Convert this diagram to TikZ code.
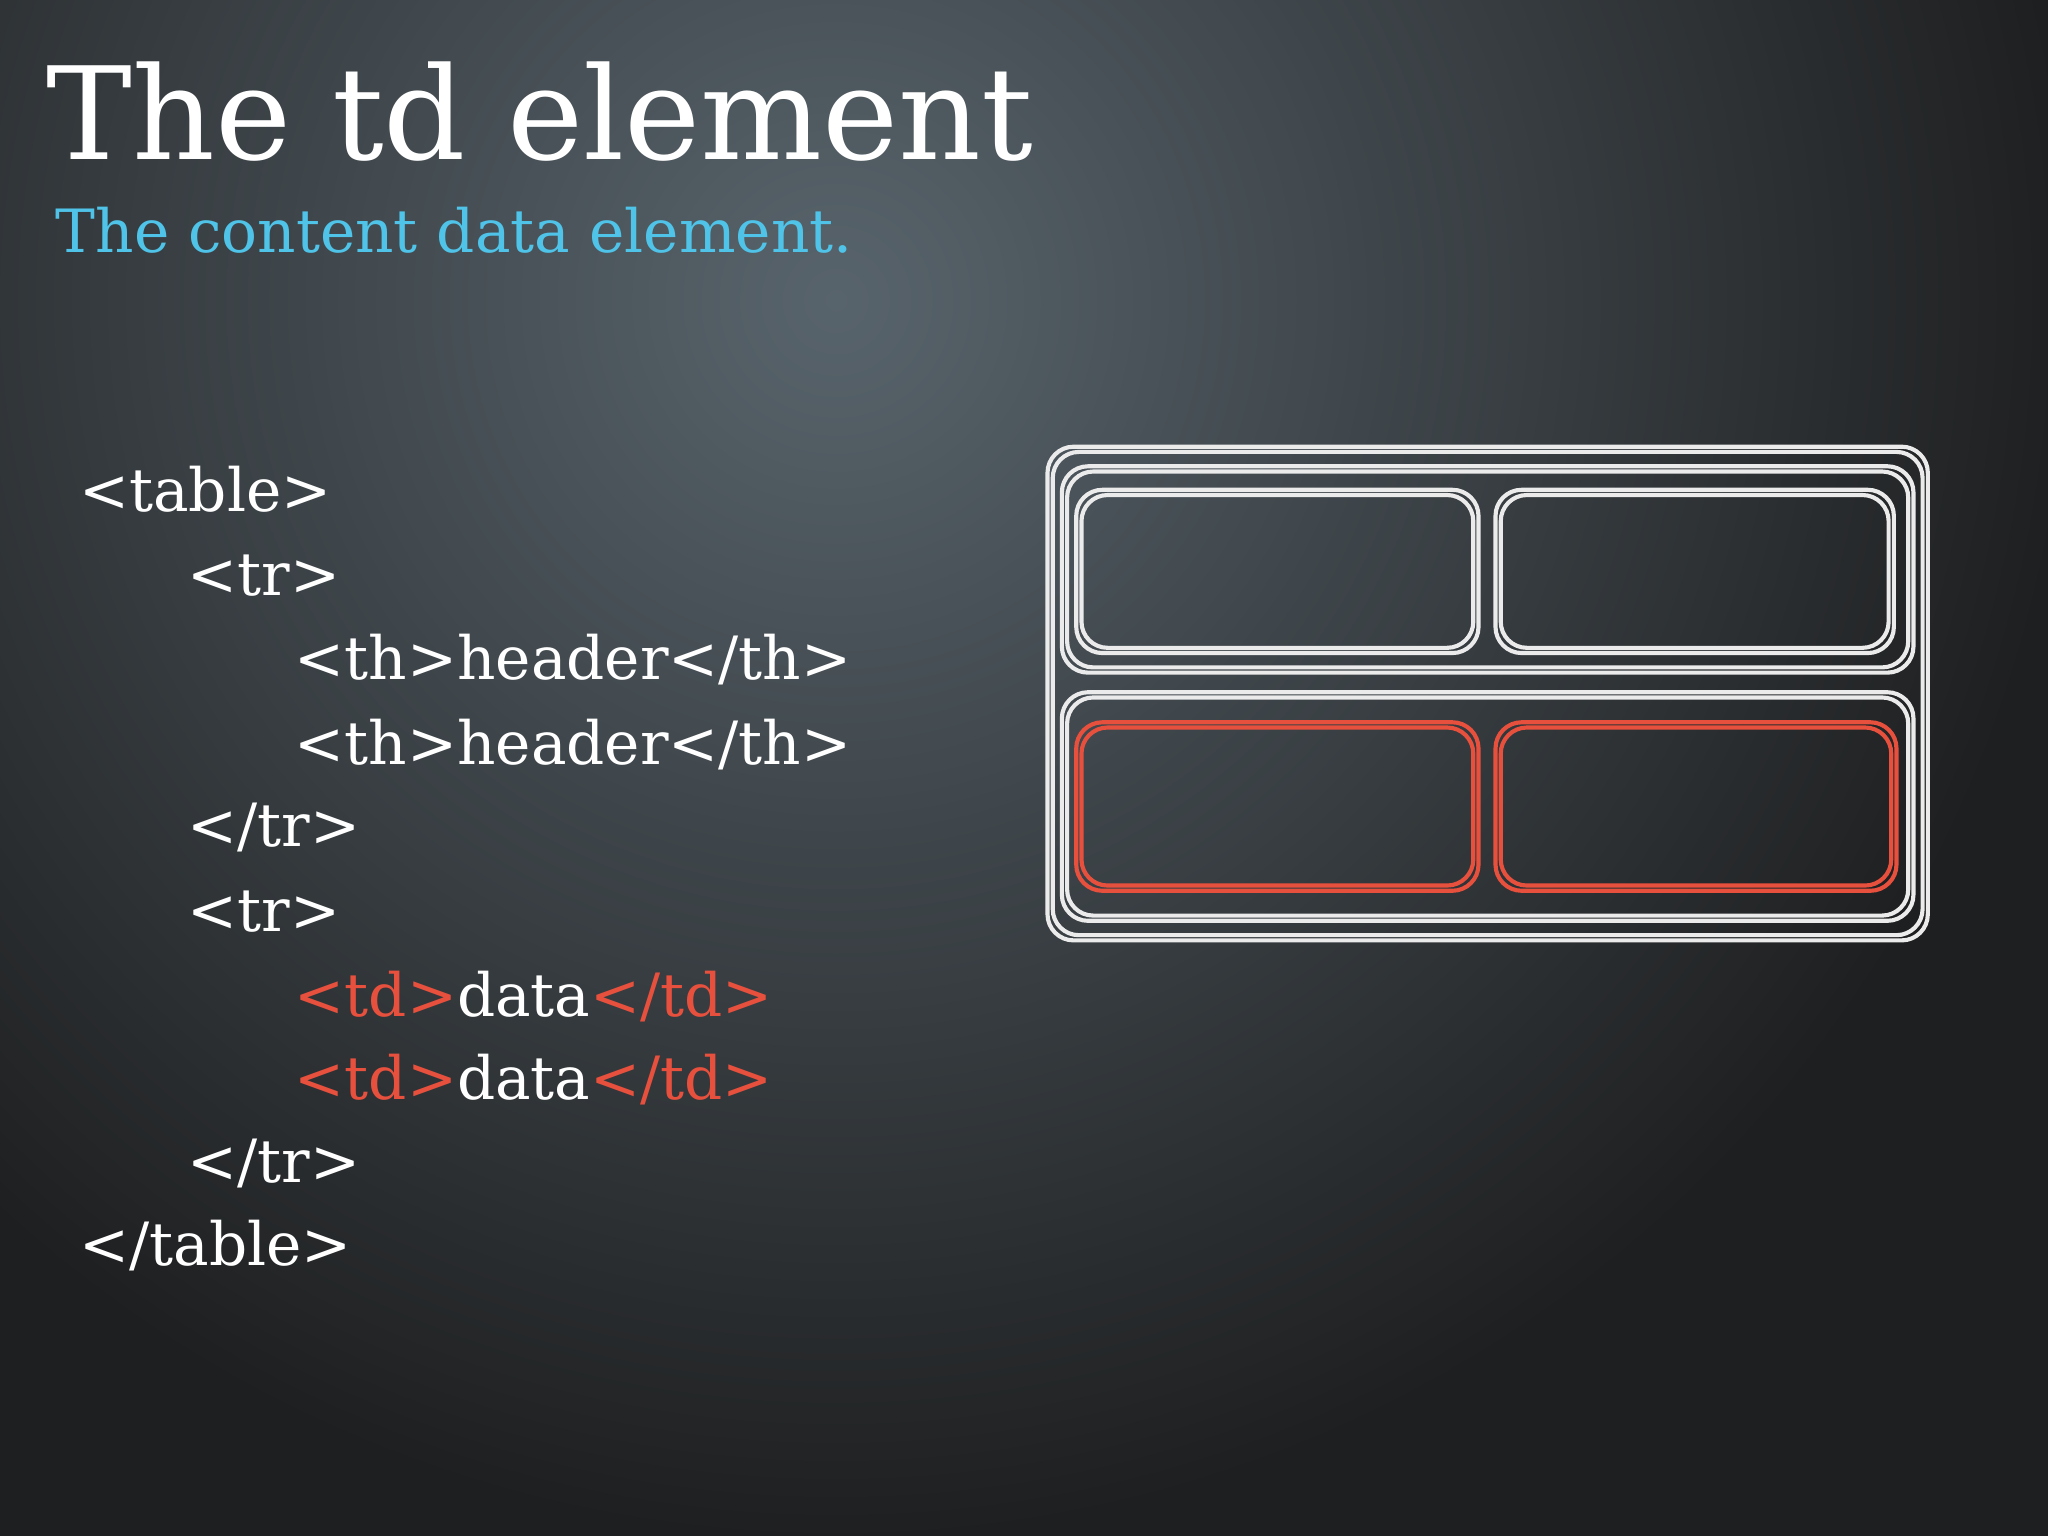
\documentclass[tikz,border=0pt]{standalone}
\usepackage{fontspec}
\setmainfont{DejaVu Serif}
\begin{document}
\begin{tikzpicture}[x=0.01cm,y=-0.01cm,
  code/.style={anchor=base west,inner sep=0,text=white,font=\fontsize{13}{16}\selectfont},
  box/.style={draw=white!92!black,line width=0.9pt,rounded corners=0.2cm},
  redbox/.style={draw=tdred,line width=0.9pt,rounded corners=0.2cm}]
\definecolor{tdred}{HTML}{E8503E}
\definecolor{sub}{HTML}{4FC3E8}
\definecolor{bgin}{RGB}{88,100,108}
\definecolor{bgout}{RGB}{30,31,32}
\useasboundingbox (0,0) rectangle (1568,1176);
\fill[bgout] (0,0) rectangle (1568,1176);
\begin{scope}
\clip (0,0) rectangle (1568,1176);
\shade[inner color=bgin,outer color=bgout] (640,230) circle (950);
\end{scope}
\node[anchor=base west,inner sep=0,text=white,font=\fontsize{28}{32}\selectfont] (title) at (35,122) {The td element};
\node[anchor=base west,inner sep=0,text=sub,font=\fontsize{13}{16}\selectfont] (subt) at (42,193) {The content data element.};
\node[code] (l1) at (60,392) {<table>};
\node[code] (l2) at (143,456) {<tr>};
\node[code] (l3) at (225,520) {<th>header</th>};
\node[code] (l4) at (225,585) {<th>header</th>};
\node[code] (l5) at (143,648) {</tr>};
\node[code] (l6) at (143,713) {<tr>};
\node[code] (l7) at (225,778) {\textcolor{tdred}{<td>}data\textcolor{tdred}{</td>}};
\node[code] (l8) at (225,842) {\textcolor{tdred}{<td>}data\textcolor{tdred}{</td>}};
\node[code] (l9) at (143,905) {</tr>};
\node[code] (l10) at (60,969) {</table>};
% sketch table
\foreach \d in {0,4}{
  \draw[box] (802+\d,342+\d) rectangle (1476-\d,720-\d);
  \draw[box] (813+\d,357+\d) rectangle (1465-\d,515-\d);
  \draw[box] (813+\d,530+\d) rectangle (1465-\d,705-\d);
  \draw[box] (824+\d,375+\d) rectangle (1132-\d,500-\d);
  \draw[box] (1145+\d,375+\d) rectangle (1450-\d,500-\d);
  \draw[redbox] (824+\d,553+\d) rectangle (1132-\d,682-\d);
  \draw[redbox] (1145+\d,553+\d) rectangle (1452-\d,682-\d);
}
\end{tikzpicture}
\end{document}
